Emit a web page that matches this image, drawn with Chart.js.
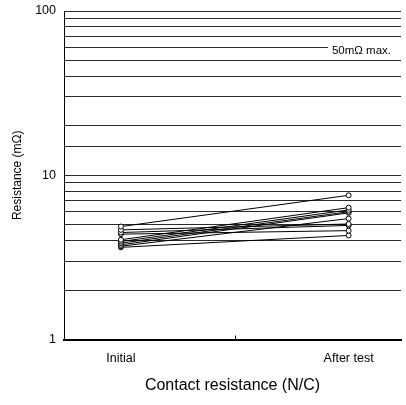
<!DOCTYPE html>
<html>
<head>
<meta charset="utf-8">
<script src="https://cdn.jsdelivr.net/npm/chart.js@4.4.1/dist/chart.umd.min.js"></script>
<style>
html,body{margin:0;padding:0;background:#fff;}
canvas{display:block;}
</style>
</head>
<body>
<canvas id="c" width="406" height="405"></canvas>
<script>
const categories = ['Initial', 'After test'];
const initialValues = [4.87, 4.65, 4.48, 4.38, 4.05, 3.95, 3.86, 3.77, 3.70, 3.64];
const afterTestValues = [7.55, 5.05, 4.95, 4.60, 6.35, 6.15, 6.00, 5.90, 5.45, 4.30];
const yTickLabels = [1, 10, 100];
const limitValue = 50;
const limitLabel = '50mΩ max.';
const xTitle = 'Contact resistance (N/C)';
const yTitle = 'Resistance (mΩ)';

const FONT = "'Liberation Sans', Arial, sans-serif";

const datasets = initialValues.map((v, i) => ({
  data: [{x: 1, y: v}, {x: 2, y: afterTestValues[i]}],
  borderColor: '#000',
  borderWidth: 1,
  pointRadius: 2.5,
  pointBorderWidth: 1,
  pointBackgroundColor: '#fff',
  pointBorderColor: '#000',
  fill: false,
  tension: 0
}));

const extras = {
  id: 'extras',
  afterDatasetsDraw(chart) {
    const {ctx, chartArea, scales: {x, y}} = chart;
    const mx = Math.round(x.getPixelForValue(1.5)) + 0.5;
    ctx.save();
    ctx.strokeStyle = '#000';
    ctx.lineWidth = 1;
    ctx.beginPath();
    ctx.moveTo(mx, chartArea.bottom);
    ctx.lineTo(mx, chartArea.bottom - 4);
    ctx.stroke();
    ctx.font = '11.5px ' + FONT;
    ctx.textAlign = 'right';
    ctx.textBaseline = 'middle';
    const tx = chartArea.right - 10;
    const ty = y.getPixelForValue(limitValue) - 10;
    const w = ctx.measureText(limitLabel).width;
    ctx.fillStyle = '#fff';
    ctx.fillRect(tx - w - 4, ty - 6, chartArea.right - (tx - w - 4), 12);
    ctx.fillStyle = '#000';
    ctx.fillText(limitLabel, tx, ty);
    ctx.restore();
  }
};

new Chart(document.getElementById('c'), {
  type: 'line',
  data: {datasets},
  options: {
    responsive: false,
    animation: false,
    events: [],
    layout: {padding: {top: 11, right: 0, left: 0, bottom: 0}},
    plugins: {legend: {display: false}, tooltip: {enabled: false}},
    scales: {
      x: {
        type: 'linear',
        min: 0.75,
        max: 2.23,
        afterBuildTicks: s => { s.ticks = [1, 1.5, 2].map(v => ({value: v})); },
        afterFit: s => { s.height = 65.5; },
        grid: {display: true, drawOnChartArea: false, drawTicks: false},
        border: {display: true, color: '#000', width: 2},
        ticks: {
          autoSkip: false,
          maxRotation: 0,
          padding: 12,
          color: '#000',
          font: {family: FONT, size: 12.5},
          callback: v => v === 1 ? categories[0] : (v === 2 ? categories[1] : '')
        },
        title: {
          display: true,
          text: xTitle,
          color: '#000',
          font: {family: FONT, size: 16},
          padding: {top: 0, bottom: 10}
        }
      },
      y: {
        type: 'logarithmic',
        min: 1,
        max: 100,
        afterFit: s => { s.width = 64; },
        grid: {display: true, drawTicks: false, color: '#2a2a2a', lineWidth: 1},
        border: {display: true, color: '#000', width: 1},
        ticks: {
          autoSkip: false,
          padding: 8,
          color: '#000',
          font: {family: FONT, size: 12.5, lineHeight: 0.4},
          callback: v => yTickLabels.includes(v) ? String(v) : ''
        },
        title: {
          display: true,
          text: yTitle,
          color: '#000',
          font: {family: FONT, size: 12},
          padding: {top: 10, bottom: 0}
        }
      }
    }
  },
  plugins: [extras]
});
</script>
</body>
</html>
